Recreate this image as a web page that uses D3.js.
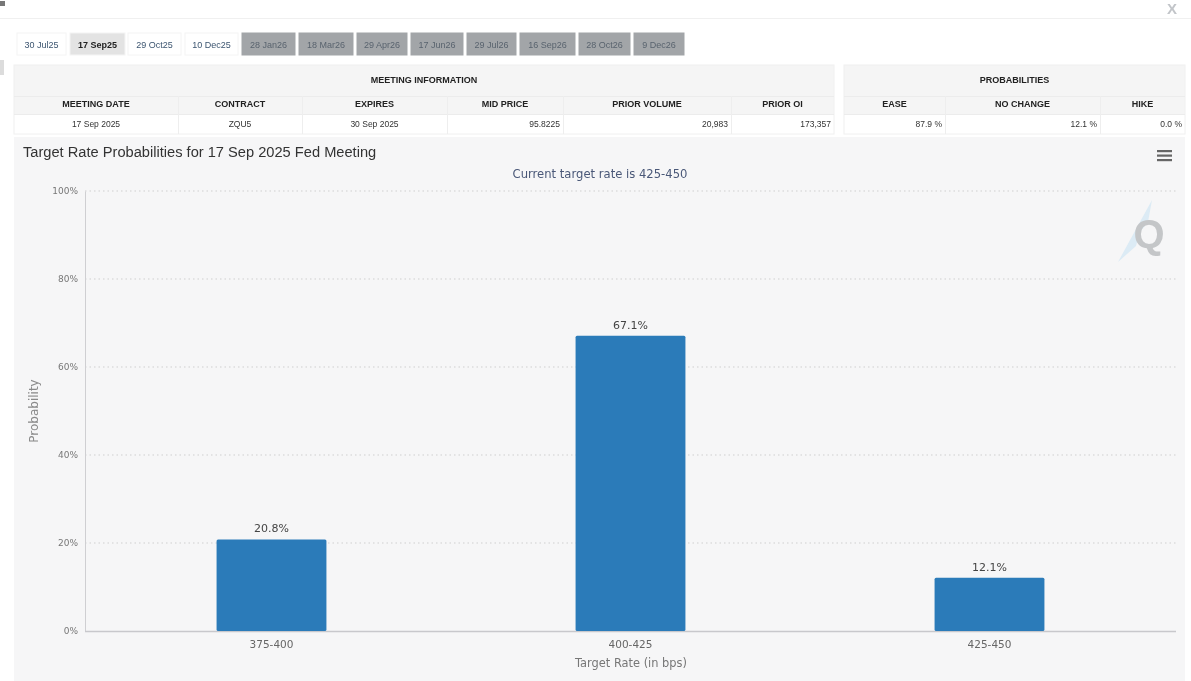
<!DOCTYPE html>
<html>
<head>
<meta charset="utf-8">
<script src="https://cdn.jsdelivr.net/npm/d3@7"></script>
<style>
  html, body { margin: 0; padding: 0; background: #fff; overflow: hidden; }
  svg { display: block; filter: blur(0.7px); }
</style>
</head>
<body>
<div id="chart"></div>
<script>
// chart values
const rates = ['375-400', '400-425', '425-450'];
const probabilities = [20.8, 67.1, 12.1];
const yTicks = [0, 20, 40, 60, 80, 100];

// meeting tabs
const meetings = ['30 Jul25', '17 Sep25', '29 Oct25', '10 Dec25', '28 Jan26', '18 Mar26', '29 Apr26', '17 Jun26', '29 Jul26', '16 Sep26', '28 Oct26', '9 Dec26'];
const meetingEdges = [[17, 66], [70, 125], [128, 181], [185, 238], [242, 295], [299, 353], [357, 407], [411, 463], [467, 516], [520, 575], [579, 630], [634, 684]];

// tables
const infoHeads = ['MEETING DATE', 'CONTRACT', 'EXPIRES', 'MID PRICE', 'PRIOR VOLUME', 'PRIOR OI'];
const infoValues = ['17 Sep 2025', 'ZQU5', '30 Sep 2025', '95.8225', '20,983', '173,357'];
const infoAlign = ['middle', 'middle', 'middle', 'end', 'end', 'end'];
const infoEdges = [14, 178, 302, 447, 563, 731, 834];
const probHeads = ['EASE', 'NO CHANGE', 'HIKE'];
const probValues = ['87.9 %', '12.1 %', '0.0 %'];
const probAlign = ['end', 'end', 'end'];
const probEdges = [844, 945, 1100, 1185];

const W = 1191, H = 681;
const svg = d3.select('#chart').append('svg').attr('width', W).attr('height', H);
const SANS = '"Liberation Sans", Arial, sans-serif';
const WIDE = '"DejaVu Sans", Verdana, sans-serif';

// top bar of the dialog
svg.append('line').attr('x1', 0).attr('x2', W).attr('y1', 18.5).attr('y2', 18.5).attr('stroke', '#f0f0f0');
svg.append('text').attr('x', 1172).attr('y', 14).attr('text-anchor', 'middle')
   .attr('font-family', SANS).attr('font-size', 15).attr('font-weight', 'bold').attr('fill', '#c2c5c9').text('X');
svg.append('rect').attr('x', 0).attr('y', 1).attr('width', 5).attr('height', 5).attr('fill', '#777');
svg.append('rect').attr('x', 0).attr('y', 60).attr('width', 4).attr('height', 15).attr('fill', '#dcdcdc');

// tabs
const tabs = svg.append('g').selectAll('g').data(meetings).join('g');
tabs.append('rect')
    .attr('x', (d, i) => meetingEdges[i][0])
    .attr('y', 33).attr('height', 22)
    .attr('width', (d, i) => meetingEdges[i][1] - meetingEdges[i][0])
    .attr('fill', (d, i) => i === 1 ? '#e3e3e3' : i > 3 ? '#a2a5a8' : '#fff')
    .attr('stroke', (d, i) => i > 3 ? '#a2a5a8' : '#f4f4f4');
tabs.append('text')
    .attr('x', (d, i) => (meetingEdges[i][0] + meetingEdges[i][1]) / 2)
    .attr('y', 47.5).attr('text-anchor', 'middle')
    .attr('font-family', SANS).attr('font-size', 9)
    .attr('font-weight', (d, i) => i === 1 ? 'bold' : null)
    .attr('fill', (d, i) => i === 1 ? '#222' : i > 3 ? '#59636e' : '#3c5570')
    .text(d => d);

function drawTable(title, heads, values, align, edges) {
  const g = svg.append('g');
  const x0 = edges[0], x1 = edges[edges.length - 1];
  g.append('rect').attr('x', x0).attr('y', 65).attr('width', x1 - x0).attr('height', 49).attr('fill', '#f5f5f5');
  g.append('rect').attr('x', x0).attr('y', 65).attr('width', x1 - x0).attr('height', 69).attr('fill', 'none').attr('stroke', '#f0f0f0');
  g.selectAll('line.row').data([96, 114]).join('line').attr('class', 'row')
   .attr('x1', x0).attr('x2', x1).attr('y1', d => d + 0.5).attr('y2', d => d + 0.5).attr('stroke', '#ececec');
  g.selectAll('line.col').data(edges.slice(1, -1)).join('line').attr('class', 'col')
   .attr('x1', d => d + 0.5).attr('x2', d => d + 0.5).attr('y1', 96).attr('y2', 134).attr('stroke', '#eeeeee');
  g.append('text').attr('x', (x0 + x1) / 2).attr('y', 82.5).attr('text-anchor', 'middle')
   .attr('font-family', SANS).attr('font-size', 9).attr('font-weight', 'bold').attr('fill', '#222').text(title);
  g.selectAll('text.head').data(heads).join('text').attr('class', 'head')
   .attr('x', (d, i) => (edges[i] + edges[i + 1]) / 2).attr('y', 107).attr('text-anchor', 'middle')
   .attr('font-family', SANS).attr('font-size', 9).attr('font-weight', 'bold').attr('fill', '#222').text(d => d);
  g.selectAll('text.val').data(values).join('text').attr('class', 'val')
   .attr('x', (d, i) => align[i] === 'end' ? edges[i + 1] - 3 : (edges[i] + edges[i + 1]) / 2)
   .attr('y', 127).attr('text-anchor', (d, i) => align[i])
   .attr('font-family', SANS).attr('font-size', 8.5).attr('fill', '#333').text(d => d);
}
drawTable('MEETING INFORMATION', infoHeads, infoValues, infoAlign, infoEdges);
drawTable('PROBABILITIES', probHeads, probValues, probAlign, probEdges);

// chart panel
svg.append('rect').attr('x', 14).attr('y', 137).attr('width', 1171).attr('height', 544).attr('fill', '#f6f6f7');
svg.append('text').attr('x', 23).attr('y', 157).attr('font-family', SANS).attr('font-size', 14.65).attr('fill', '#333')
   .text('Target Rate Probabilities for 17 Sep 2025 Fed Meeting');
svg.append('text').attr('x', 600).attr('y', 178).attr('text-anchor', 'middle').attr('font-family', WIDE).attr('font-size', 11.6)
   .attr('fill', '#4a5878').text('Current target rate is 425-450');

// menu icon
svg.append('g').selectAll('rect').data([150, 154.5, 159]).join('rect')
   .attr('x', 1157).attr('y', d => d).attr('width', 15).attr('height', 2.2).attr('fill', '#666');

// scales
const x = d3.scaleBand().domain(rates).range([92, 1169]).paddingInner(0.694).paddingOuter(0.347);
const y = d3.scaleLinear().domain([0, 100]).range([631, 191]);

// grid
svg.append('g').selectAll('line').data(yTicks.filter(d => d > 0)).join('line')
   .attr('x1', 85).attr('x2', 1176).attr('y1', d => y(d)).attr('y2', d => y(d))
   .attr('stroke', '#cfcfcf').attr('stroke-dasharray', '1.5 3');

// watermark
const mark = svg.append('g');
mark.append('path').attr('d', 'M1118 262L1152 200L1148 222L1140 232L1136 246Z').attr('fill', '#dcebf5');
mark.append('text').attr('x', 1149).attr('y', 248).attr('text-anchor', 'middle')
    .attr('font-family', SANS).attr('font-size', 40).attr('font-weight', 'bold').attr('fill', '#c4c6c8').text('Q');

// axes
const yAxis = svg.append('g').attr('transform', 'translate(85,0)')
  .call(d3.axisLeft(y).tickValues(yTicks).tickSize(0).tickPadding(7).tickFormat(d => d + '%'));
yAxis.select('.domain').attr('stroke', '#cfcfd2');
yAxis.selectAll('text').attr('font-family', WIDE).attr('font-size', 9).attr('fill', '#777');

const xAxis = svg.append('g').attr('transform', 'translate(0,631)')
  .call(d3.axisBottom(x).tickSize(0).tickPadding(10));
xAxis.select('.domain').remove();
xAxis.selectAll('text').attr('font-family', WIDE).attr('font-size', 10.5).attr('fill', '#666');
svg.append('line').attr('x1', 85).attr('x2', 1176).attr('y1', 631.5).attr('y2', 631.5).attr('stroke', '#c8c8cc').attr('stroke-width', 1.5);

svg.append('text').attr('transform', 'translate(38,411) rotate(-90)').attr('text-anchor', 'middle')
   .attr('font-family', WIDE).attr('font-size', 12).attr('fill', '#8a8a8a').text('Probability');
svg.append('text').attr('x', 631).attr('y', 667).attr('text-anchor', 'middle')
   .attr('font-family', WIDE).attr('font-size', 11.4).attr('fill', '#777').text('Target Rate (in bps)');

// bars
svg.append('g').selectAll('rect').data(rates).join('rect')
   .attr('x', d => x(d)).attr('width', x.bandwidth())
   .attr('y', (d, i) => y(probabilities[i])).attr('height', (d, i) => y(0) - y(probabilities[i]))
   .attr('rx', 1.5).attr('fill', '#2b7bb9');
svg.append('g').selectAll('text').data(rates).join('text')
   .attr('x', d => x(d) + x.bandwidth() / 2).attr('y', (d, i) => y(probabilities[i]) - 7)
   .attr('text-anchor', 'middle').attr('font-family', WIDE).attr('font-size', 11).attr('fill', '#444')
   .text((d, i) => probabilities[i].toFixed(1) + '%');
</script>
</body>
</html>
